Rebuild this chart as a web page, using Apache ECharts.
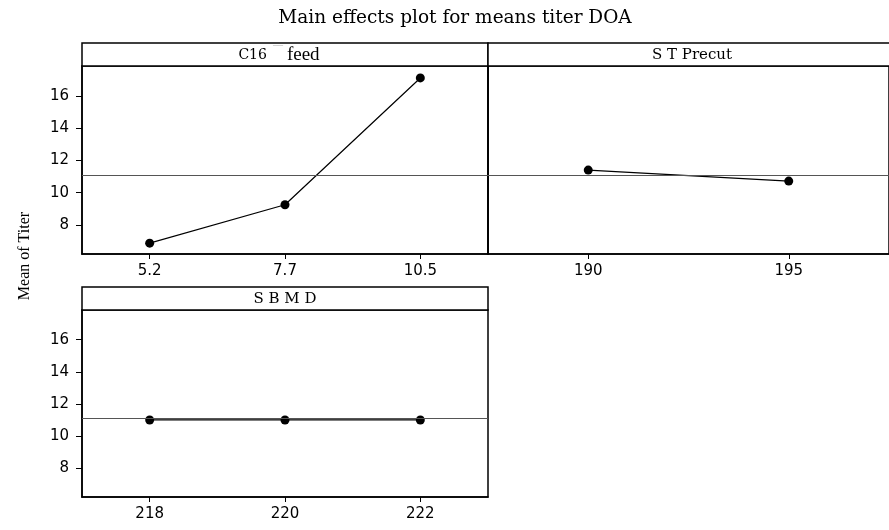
<!DOCTYPE html>
<html>
<head>
<meta charset="utf-8">
<script src="https://cdn.jsdelivr.net/npm/echarts@6/dist/echarts.min.js"></script>
<style>html,body{margin:0;padding:0;background:#fff;}#c{width:889px;height:530px;}</style>
</head>
<body>
<div id="c"></div>
<script>
// ---- data ----
const titleText = 'Main effects plot for means titer DOA';
const yAxisName = 'Mean of Titer';
const panelNames = ['C16', 'S T Precut', 'S B M D'];
const grandMean = 11.08;
const feedCats = ['5.2', '7.7', '10.5'];
const feedMeans = [6.87, 9.25, 17.11];
const precutCats = ['190', '195'];
const precutMeans = [11.40, 10.72];
const sbmdCats = ['218', '220', '222'];
const sbmdMeans = [11.0, 11.0, 11.0];
const yTicks = [8, 10, 12, 14, 16];
const yMin = 6.2, yMax = 17.85;

const chart = echarts.init(document.getElementById('c'), null, {renderer: 'canvas'});
const sansFont = 'DejaVu Sans';
const serifFont = 'Liberation Serif';
const wideSerif = 'DejaVu Serif';

const grids = [
  {left: 82, top: 66, width: 406, height: 188},
  {left: 488, top: 66, width: 405, height: 188},
  {left: 82, top: 310, width: 406, height: 187}
];
const cats = [feedCats, precutCats, sbmdCats];
const vals = [feedMeans, precutMeans, sbmdMeans];

const option = {
  animation: false,
  backgroundColor: '#fff',
  grid: grids.map(g => Object.assign({show: true, borderColor: '#000', borderWidth: 1.5, backgroundColor: 'transparent', containLabel: false}, g)),
  xAxis: cats.map((c, i) => ({
    type: 'category', gridIndex: i, data: c, boundaryGap: true,
    axisLine: {show: true, lineStyle: {color: '#000', width: 1.5}},
    axisTick: {show: true, alignWithLabel: true, length: 5, lineStyle: {color: '#000', width: 1}},
    axisLabel: {fontFamily: sansFont, fontSize: 15, color: '#000', margin: 10},
    splitLine: {show: false}
  })),
  yAxis: [0, 1, 2].map(i => ({
    type: 'value', gridIndex: i, min: yMin, max: yMax,
    axisLine: {show: true, lineStyle: {color: '#000', width: 1.5}},
    axisTick: {show: i !== 1, length: 6, customValues: yTicks, lineStyle: {color: '#000', width: 1}},
    axisLabel: {show: i !== 1, customValues: yTicks, fontFamily: sansFont, fontSize: 15, color: '#000', margin: 13},
    splitLine: {show: false}
  })),
  series: vals.map((v, i) => ({
    type: 'line', xAxisIndex: i, yAxisIndex: i, data: v,
    symbol: 'circle', symbolSize: 9,
    itemStyle: {color: '#000'},
    lineStyle: {color: '#000', width: 1.2},
    markLine: {
      silent: true, symbol: 'none', label: {show: false},
      lineStyle: {color: '#555', width: 1, type: 'solid'},
      data: [{yAxis: grandMean}]
    }
  })),
  graphic: [
    {type: 'text', x: 455, y: 18, z: 11, style: {text: titleText, align: 'center', verticalAlign: 'middle', fontFamily: wideSerif, fontSize: 18.5, fill: '#000'}},
    {type: 'rect', shape: {x: 82, y: 43, width: 406, height: 23}, style: {fill: '#fff', stroke: '#000', lineWidth: 1.5}, z: 10},
    {type: 'rect', shape: {x: 488, y: 43, width: 405, height: 23}, style: {fill: '#fff', stroke: '#000', lineWidth: 1.5}, z: 10},
    {type: 'rect', shape: {x: 82, y: 287, width: 406, height: 23}, style: {fill: '#fff', stroke: '#000', lineWidth: 1.5}, z: 10},
    {type: 'text', x: 279, y: 55, z: 11, style: {
      text: '{a|' + panelNames[0] + '}{b|¯¯}{c|feed}', align: 'center', verticalAlign: 'middle',
      rich: {
        a: {fontFamily: wideSerif, fontSize: 14, fill: '#000', padding: [0, 6, 0, 0]},
        b: {fontFamily: serifFont, fontSize: 10, fill: '#aaa', verticalAlign: 'top', padding: [0, 4, 8, 0]},
        c: {fontFamily: serifFont, fontSize: 19, fill: '#000'}
      }
    }},
    {type: 'text', x: 692, y: 55, z: 11, style: {text: panelNames[1], align: 'center', verticalAlign: 'middle', fontFamily: wideSerif, fontSize: 15, fill: '#000'}},
    {type: 'text', x: 285, y: 299, z: 11, style: {text: panelNames[2], align: 'center', verticalAlign: 'middle', fontFamily: wideSerif, fontSize: 15, fill: '#000'}},
    {type: 'text', x: 25, y: 256, rotation: Math.PI / 2, z: 11, style: {text: yAxisName, align: 'center', verticalAlign: 'middle', fontFamily: serifFont, fontSize: 16, fill: '#000'}}
  ]
};
chart.setOption(option);
</script>
</body>
</html>
